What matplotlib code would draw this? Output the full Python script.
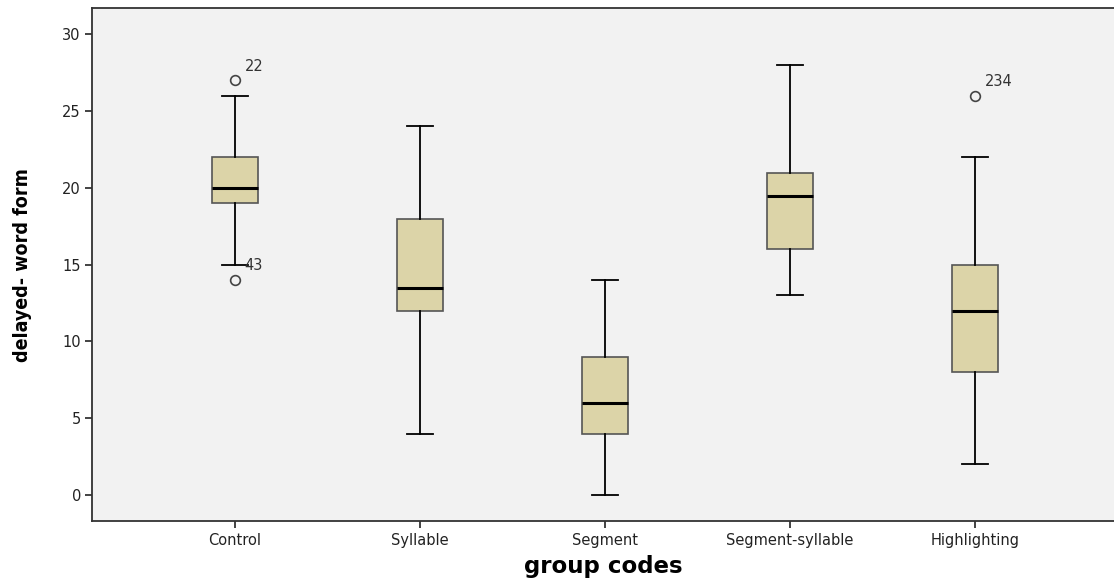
import matplotlib
matplotlib.use("Agg")
import matplotlib.pyplot as plt

# group codes and summary values
groups = ["Control", "Syllable", "Segment", "Segment-syllable", "Highlighting"]
whislo = [15, 4, 0, 13, 2]
q1 = [19, 12, 4, 16, 8]
med = [20, 13.5, 6, 19.5, 12]
q3 = [22, 18, 9, 21, 15]
whishi = [26, 24, 14, 28, 22]
outliers = [[27, 14], [], [], [], [26]]
outlier_ids = [["22", "43"], [], [], [], ["234"]]

stats = []
for i, g in enumerate(groups):
    stats.append(dict(label=g, whislo=whislo[i], q1=q1[i], med=med[i],
                      q3=q3[i], whishi=whishi[i], fliers=outliers[i]))

fig = plt.figure(figsize=(11.14, 5.82), dpi=100)
ax = fig.add_axes([0.0826, 0.1048, 0.9174, 0.881])
ax.set_facecolor("#f2f2f2")

pos = list(range(1, len(groups) + 1))
ax.bxp(stats, positions=pos, widths=0.25, patch_artist=True,
       boxprops=dict(facecolor="#dcd4a8", edgecolor="#555555", linewidth=1.2),
       medianprops=dict(color="black", linewidth=2.2),
       whiskerprops=dict(color="black", linewidth=1.3),
       capprops=dict(color="black", linewidth=1.3),
       capwidths=0.14,
       flierprops=dict(marker="o", markerfacecolor="none",
                       markeredgecolor="#444444", markersize=7, markeredgewidth=1.2))

for i in range(len(groups)):
    for v, lab in zip(outliers[i], outlier_ids[i]):
        ax.annotate(lab, (pos[i], v), xytext=(7, 7), textcoords="offset points",
                    fontsize=10.5, color="#333333")

ax.set_xlim(0.227, 5.75)
ax.set_ylim(-1.7, 31.7)
ax.set_yticks([0, 5, 10, 15, 20, 25, 30])
ax.tick_params(axis="both", labelsize=10.5, colors="#222222", length=5, width=1.2)
ax.tick_params(axis="y", pad=3)

ax.spines["right"].set_visible(False)
for s in ["left", "bottom", "top"]:
    ax.spines[s].set_linewidth(1.3)
    ax.spines[s].set_color("#333333")

ax.set_xlabel("group codes", fontsize=16.5, fontweight="bold", labelpad=5)
ax.set_ylabel("delayed- word form", fontsize=14, fontweight="bold",
              fontstretch="condensed", labelpad=22)

fig.savefig("out.png", dpi=100)
